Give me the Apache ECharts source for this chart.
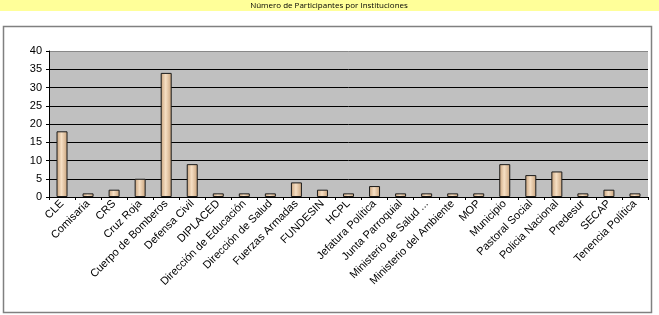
<!DOCTYPE html>
<html>
<head>
<meta charset="utf-8">
<script src="https://cdn.jsdelivr.net/npm/echarts@6/dist/echarts.min.js"></script>
<style>
  html, body { margin: 0; padding: 0; background: #fff; }
  #chart { width: 659px; height: 315px; }
</style>
</head>
<body>
<div id="chart"></div>
<script>
const titleText = 'Número de Participantes por Instituciones';

const instituciones = [
  'CLE', 'Comisaria', 'CRS', 'Cruz Roja', 'Cuerpo de Bomberos', 'Defensa Civil',
  'DIPLACED', 'Dirección de Educación', 'Dirección de Salud', 'Fuerzas Armadas',
  'FUNDESIN', 'HCPL', 'Jefatura Política', 'Junta Parroquial', 'Ministerio de Salud ...',
  'Ministerio del Ambiente', 'MOP', 'Municipio', 'Pastoral Social', 'Policia Nacional',
  'Predesur', 'SECAP', 'Tenencia Política'
];

const participantes = [18, 1, 2, 5, 34, 9, 1, 1, 1, 4, 2, 1, 3, 1, 1, 1, 1, 9, 6, 7, 1, 2, 1];

const yTicks = { min: 0, max: 40, interval: 5 };

let chartInstance = echarts.init(document.getElementById('chart'));

const barFill = new echarts.graphic.LinearGradient(0, 0, 1, 0, [
  { offset: 0, color: '#c9a27a' },
  { offset: 0.45, color: '#f6dfc4' },
  { offset: 1, color: '#c9a27a' }
]);

// gridlines black, top one (40) gray like the plot frame
const gridColors = ['#000', '#000', '#000', '#000', '#000', '#000', '#000', '#000', '#888'];

const option = {
  animation: false,
  backgroundColor: '#fff',
  graphic: [
    {
      type: 'rect',
      shape: { x: 0, y: 0, width: 659, height: 11 },
      style: { fill: '#ffff99' },
      z: 0
    },
    {
      type: 'text',
      x: 329, y: 5.5,
      style: {
        text: titleText,
        fill: '#000',
        font: '8px "Open Sans"',
        align: 'center',
        verticalAlign: 'middle'
      },
      z: 1
    },
    {
      type: 'rect',
      shape: { x: 3.5, y: 26.5, width: 648, height: 286 },
      style: { fill: 'none', stroke: '#808080', lineWidth: 1.5 },
      z: 0
    }
  ],
  grid: {
    left: 49,
    right: 11,
    top: 51,
    bottom: 118,
    show: true,
    backgroundColor: '#c0c0c0',
    borderWidth: 0
  },
  xAxis: {
    type: 'category',
    data: instituciones,
    axisLine: { lineStyle: { color: '#000', width: 1 } },
    axisTick: { show: true, alignWithLabel: false, length: 3, lineStyle: { color: '#000' } },
    axisLabel: {
      interval: 0,
      rotate: 45,
      color: '#000',
      fontFamily: '"Liberation Sans", Arial',
      fontSize: 11,
      margin: 5
    }
  },
  yAxis: {
    type: 'value',
    min: yTicks.min,
    max: yTicks.max,
    interval: yTicks.interval,
    axisLine: { show: true, lineStyle: { color: '#000', width: 1 } },
    axisTick: { show: true, length: 3, lineStyle: { color: '#000' } },
    splitLine: { show: true, lineStyle: { color: gridColors, width: 1 } },
    axisLabel: {
      color: '#000',
      fontFamily: '"Liberation Sans", Arial',
      fontSize: 11,
      margin: 7
    }
  },
  series: [
    {
      type: 'bar',
      data: participantes,
      barWidth: 11,
      itemStyle: {
        color: barFill,
        borderColor: '#1a1a1a',
        borderWidth: 1
      }
    }
  ]
};

chartInstance.setOption(option);
</script>
</body>
</html>
